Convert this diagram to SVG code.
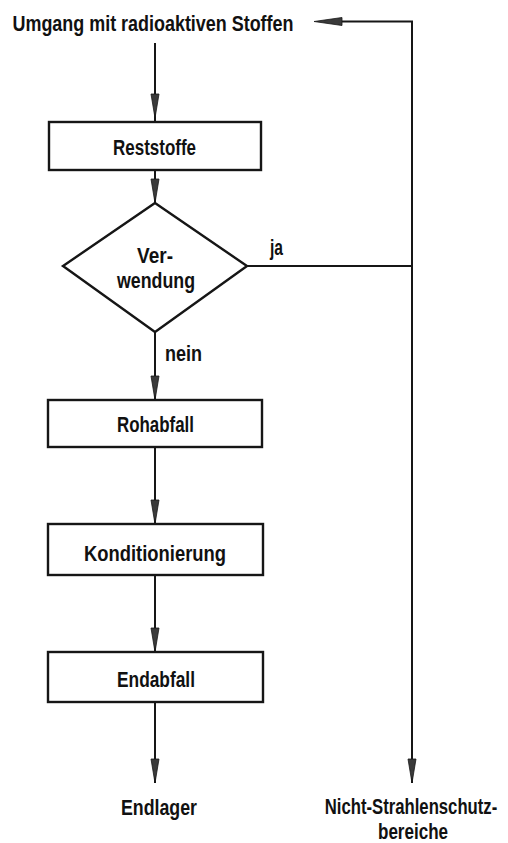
<svg xmlns="http://www.w3.org/2000/svg" width="508" height="843" viewBox="0 0 508 843">
  <style>
    .box { fill: #ffffff; stroke: #161616; stroke-width: 2.4; }
    .line { fill: none; stroke: #161616; stroke-width: 2; }
    .head { fill: #3a3a3a; stroke: #161616; stroke-width: 0.8; stroke-linejoin: round; }
    .t { font-family: "Liberation Sans", Arial, sans-serif; font-weight: bold; font-size: 22px; fill: #111111; }
  </style>
  <defs>
    <!-- narrow wedge arrowhead, tip at origin pointing down -->
    <path id="spike" class="head" d="M0,0 L-4,-24 L4,-24 Z"/>
  </defs>
  <rect width="508" height="843" fill="#ffffff"/>

  <g id="connectors">
    <!-- start label down to Reststoffe -->
    <line class="line" x1="155" y1="43" x2="155" y2="122"/>
    <use href="#spike" x="155" y="118"/>
    <!-- Reststoffe to decision -->
    <line class="line" x1="155" y1="170" x2="155" y2="203"/>
    <use href="#spike" x="155" y="203"/>
    <!-- nein: decision to Rohabfall -->
    <line class="line" x1="155" y1="332" x2="155" y2="400"/>
    <use href="#spike" x="155" y="400"/>
    <!-- Rohabfall to Konditionierung -->
    <line class="line" x1="155" y1="447" x2="155" y2="524"/>
    <use href="#spike" x="155" y="524"/>
    <!-- Konditionierung to Endabfall -->
    <line class="line" x1="155" y1="575" x2="155" y2="652"/>
    <use href="#spike" x="155" y="652"/>
    <!-- Endabfall to Endlager -->
    <line class="line" x1="155" y1="702" x2="155" y2="783"/>
    <use href="#spike" x="155" y="783"/>
    <!-- ja branch to the right-hand trunk -->
    <line class="line" x1="247" y1="266" x2="412" y2="266"/>
    <!-- right-hand trunk: up to the start label and down to Nicht-Strahlenschutzbereiche -->
    <polyline class="line" points="340,21.5 412,21.5 412,783"/>
    <use href="#spike" x="412" y="783"/>
    <path class="head" d="M314,21.5 L342,17.5 L342,25.5 Z"/>
  </g>

  <g id="start">
    <text class="t" x="12.5" y="31" textLength="281" lengthAdjust="spacingAndGlyphs">Umgang mit radioaktiven Stoffen</text>
  </g>

  <g id="reststoffe">
    <rect class="box" x="49" y="122" width="212" height="48"/>
    <text class="t" x="113" y="155" textLength="83" lengthAdjust="spacingAndGlyphs">Reststoffe</text>
  </g>

  <g id="verwendung">
    <polygon class="box" points="155,203 247,266 155,332 63,266"/>
    <text class="t" x="137" y="263" textLength="36" lengthAdjust="spacingAndGlyphs">Ver-</text>
    <text class="t" x="117" y="288" textLength="78" lengthAdjust="spacingAndGlyphs">wendung</text>
  </g>

  <g id="label-ja">
    <text class="t" x="270" y="255" textLength="13" lengthAdjust="spacingAndGlyphs">ja</text>
  </g>

  <g id="label-nein">
    <text class="t" x="165" y="361" textLength="37" lengthAdjust="spacingAndGlyphs">nein</text>
  </g>

  <g id="rohabfall">
    <rect class="box" x="48" y="400" width="214" height="47"/>
    <text class="t" x="117" y="432" textLength="77" lengthAdjust="spacingAndGlyphs">Rohabfall</text>
  </g>

  <g id="konditionierung">
    <rect class="box" x="48" y="524" width="215" height="51"/>
    <text class="t" x="84" y="561" textLength="142" lengthAdjust="spacingAndGlyphs">Konditionierung</text>
  </g>

  <g id="endabfall">
    <rect class="box" x="48" y="652" width="215" height="50"/>
    <text class="t" x="117" y="687" textLength="78" lengthAdjust="spacingAndGlyphs">Endabfall</text>
  </g>

  <g id="endlager">
    <text class="t" x="121" y="815" textLength="76" lengthAdjust="spacingAndGlyphs">Endlager</text>
  </g>

  <g id="nicht-strahlenschutzbereiche">
    <!-- condensed by a horizontal scale so the line ends inside the page -->
    <text class="t" transform="translate(411,814) scale(0.76,1)" text-anchor="middle">Nicht-Strahlenschutz-</text>
    <text class="t" x="378" y="839" textLength="70" lengthAdjust="spacingAndGlyphs">bereiche</text>
  </g>
</svg>
